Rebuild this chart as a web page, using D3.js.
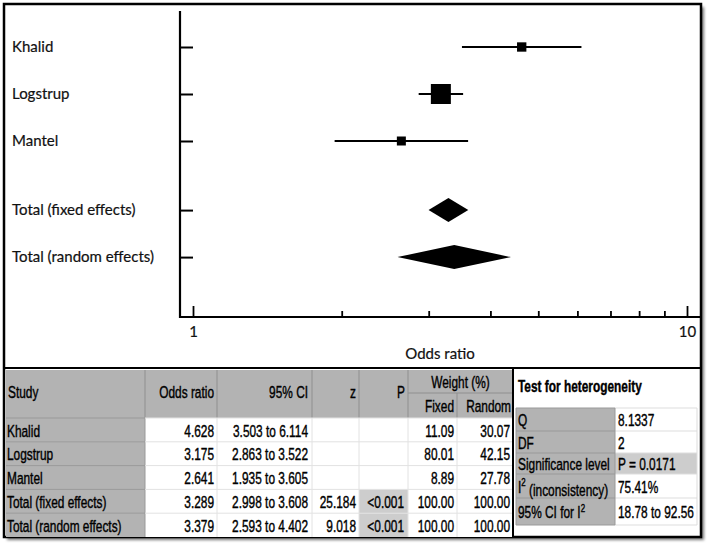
<!DOCTYPE html>
<html><head><meta charset="utf-8">
<script src="https://cdn.jsdelivr.net/npm/d3@7"></script>
<style>
html,body{margin:0;padding:0;background:#fff;}
svg{display:block;}
.pl{font-family:"Lato","Open Sans",sans-serif;font-size:15px;fill:#111;stroke:#111;stroke-width:0.2px;}
.tb{font-family:"Liberation Sans","Arial",sans-serif;font-size:16.5px;fill:#000;stroke:#000;stroke-width:0.4px;}
</style></head>
<body>
<script>
// ---- data ----
const studies = ["Khalid","Logstrup","Mantel","Total (fixed effects)","Total (random effects)"];
const isTotal = [false,false,false,true,true];
const oddsRatio = [4.628,3.175,2.641,3.289,3.379];
const ciLow = [3.503,2.863,1.935,2.998,2.593];
const ciHigh = [6.114,3.522,3.605,3.608,4.402];
const zVal = ["","","","25.184","9.018"];
const pVal = ["","","","<0.001","<0.001"];
const weightFixed = [11.09,80.01,8.89,100.00,100.00];
const weightRandom = [30.07,42.15,27.78,100.00,100.00];
const xTicksMajor = [1,10];
const xTicksMinor = [2,3,4,5,6,7,8,9];
const hetLabels = ["Q","DF","Significance level","I2 (inconsistency)","95% CI for I2"];
const hetValues = ["8.1337","2","P = 0.0171","75.41%","18.78 to 92.56"];

const W=709,H=543;
const NARROW=0.72;
const svg=d3.select("body").append("svg").attr("width",W).attr("height",H);
const defs=svg.append("defs");
const f=defs.append("filter").attr("id","sh").attr("x","-5%").attr("y","-5%").attr("width","110%").attr("height","110%");
f.append("feGaussianBlur").attr("stdDeviation",1.5);

svg.append("rect").attr("x",7).attr("y",7).attr("width",697).attr("height",533).attr("fill","#777").attr("filter","url(#sh)");
svg.append("rect").attr("x",4).attr("y",4).attr("width",697).attr("height",533).attr("fill","#fff").attr("stroke","#000").attr("stroke-width",2.5);

// ---- forest plot ----
const x=d3.scaleLog().domain([1,10]).range([193,687]);
const y=d3.scaleLinear().domain([0,1]).range([47,94]);
const rowY=i=>y(i+(isTotal[i]?0.47:0));
const axisX0=180, axisX1=700, axisY=317, axisTop=11;
const sizeScale=d3.scaleLinear().domain(d3.extent(weightFixed.filter((d,i)=>!isTotal[i]))).range([9,20]);

const g=svg.append("g");
g.append("line").attr("x1",axisX0).attr("x2",axisX0).attr("y1",axisTop).attr("y2",axisY+1).attr("stroke","#000").attr("stroke-width",2.2);
const yAx=d3.axisRight(d3.scaleLinear().domain([0,4.47]).range([rowY(0),rowY(4)])).tickValues(studies.map((d,i)=>i+(isTotal[i]?0.47:0))).tickSize(13).tickFormat("");
g.append("g").attr("transform",`translate(${axisX0},0)`).call(yAx).call(s=>{s.select(".domain").remove();s.selectAll("line").attr("stroke-width",2);});
g.selectAll("text.lab").data(studies).join("text").attr("class","pl").attr("x",12).attr("y",(d,i)=>rowY(i)).attr("dy","0.35em").text(d=>d);

g.append("line").attr("x1",axisX0-1).attr("x2",axisX1).attr("y1",axisY).attr("y2",axisY).attr("stroke","#000").attr("stroke-width",2.2);
g.append("g").attr("transform",`translate(0,${axisY})`).call(d3.axisBottom(x).tickValues(xTicksMinor).tickSize(-6).tickFormat(""))
  .call(s=>{s.select(".domain").remove();s.selectAll("line").attr("stroke-width",1.8);});
g.append("g").attr("transform",`translate(0,${axisY})`).call(d3.axisBottom(x).tickValues(xTicksMajor).tickSize(-11).tickPadding(9).tickFormat(d3.format("d")))
  .call(s=>{s.select(".domain").remove();s.selectAll("line").attr("stroke-width",1.8);s.selectAll("text").attr("class","pl").attr("font-size",null).attr("font-family",null).attr("fill","#111");});
g.append("text").attr("class","pl").attr("x",(axisX0+axisX1)/2).attr("y",359).attr("text-anchor","middle").text("Odds ratio");

const ind=studies.map((d,i)=>i).filter(i=>!isTotal[i]);
g.selectAll("line.ci").data(ind).join("line").attr("x1",i=>x(ciLow[i])).attr("x2",i=>x(ciHigh[i])).attr("y1",i=>rowY(i)).attr("y2",i=>rowY(i)).attr("stroke","#000").attr("stroke-width",2);
g.selectAll("rect.sq").data(ind).join("rect").attr("x",i=>x(oddsRatio[i])-sizeScale(weightFixed[i])/2).attr("y",i=>rowY(i)-sizeScale(weightFixed[i])/2)
  .attr("width",i=>sizeScale(weightFixed[i])).attr("height",i=>sizeScale(weightFixed[i])).attr("fill","#000");
const tot=studies.map((d,i)=>i).filter(i=>isTotal[i]);
g.selectAll("path.dia").data(tot).join("path").attr("fill","#000").attr("d",i=>{
  const yy=rowY(i),h=12;
  return `M${x(ciLow[i])},${yy}L${x(oddsRatio[i])},${yy-h}L${x(ciHigh[i])},${yy}L${x(oddsRatio[i])},${yy+h}Z`;});

// ---- table ----
const T=svg.append("g");
const colEdges=[6,145,217,312,359,408,457,513];
const hdrTop=370, hdrMid=393, hdrBot=418, rowH=23.8;
const gray="#b3b3b3", lgray="#cdcdcd";
T.append("rect").attr("x",colEdges[0]).attr("y",hdrTop).attr("width",colEdges[7]-colEdges[0]).attr("height",hdrBot-hdrTop).attr("fill",gray);
studies.forEach((s,i)=>{
  const y0=hdrBot+i*rowH;
  T.append("rect").attr("x",colEdges[0]).attr("y",y0).attr("width",colEdges[1]-colEdges[0]).attr("height",rowH).attr("fill",gray);
  T.append("rect").attr("x",colEdges[1]).attr("y",y0).attr("width",colEdges[7]-colEdges[1]).attr("height",rowH).attr("fill","#fff");
  if(pVal[i]) T.append("rect").attr("x",colEdges[4]).attr("y",y0).attr("width",colEdges[5]-colEdges[4]).attr("height",rowH).attr("fill",lgray);
});
const tBot=hdrBot+studies.length*rowH;
colEdges.slice(1,7).forEach((cx,k)=>{
  T.append("line").attr("x1",cx).attr("x2",cx).attr("y1",(k===5)?hdrMid:hdrTop).attr("y2",hdrBot).attr("stroke","#8f8f8f").attr("stroke-width",1);
  T.append("line").attr("x1",cx).attr("x2",cx).attr("y1",hdrBot).attr("y2",tBot).attr("stroke",k===0?"#999":"#e2e2e2").attr("stroke-width",1);
});
T.append("line").attr("x1",colEdges[5]).attr("x2",colEdges[7]).attr("y1",hdrMid).attr("y2",hdrMid).attr("stroke","#8f8f8f");
for(let i=0;i<studies.length;i++){
  const yy=hdrBot+i*rowH;
  T.append("line").attr("x1",colEdges[0]).attr("x2",colEdges[1]).attr("y1",yy).attr("y2",yy).attr("stroke","#999");
  T.append("line").attr("x1",colEdges[1]).attr("x2",colEdges[7]).attr("y1",yy).attr("y2",yy).attr("stroke","#e2e2e2");
}
const tx=(parent,xx,yy,t,anchor)=>parent.append("text").attr("class","tb").attr("transform",`translate(${xx},${yy}) scale(${NARROW},1)`).attr("dy","0.35em").attr("text-anchor",anchor).text(t);
const hy=(hdrTop+hdrBot)/2-2;
tx(T,8,hy,"Study","start");
tx(T,colEdges[2]-3,hy,"Odds ratio","end");
tx(T,colEdges[3]-4,hy,"95% CI","end");
tx(T,colEdges[4]-3,hy,"z","end");
tx(T,colEdges[5]-3,hy,"P","end");
tx(T,(colEdges[5]+colEdges[7])/2,(hdrTop+hdrMid)/2+1,"Weight (%)","middle");
tx(T,colEdges[6]-3,(hdrMid+hdrBot)/2+1,"Fixed","end");
tx(T,colEdges[7]-2,(hdrMid+hdrBot)/2+1,"Random","end");
studies.forEach((s,i)=>{
  const yy=hdrBot+i*rowH+rowH/2+1;
  tx(T,7,yy,s,"start");
  tx(T,colEdges[2]-3,yy,d3.format(".3f")(oddsRatio[i]),"end");
  tx(T,colEdges[3]-4,yy,d3.format(".3f")(ciLow[i])+" to "+d3.format(".3f")(ciHigh[i]),"end");
  tx(T,colEdges[4]-3,yy,zVal[i],"end");
  tx(T,colEdges[5]-4,yy,pVal[i],"end");
  tx(T,colEdges[6]-3,yy,d3.format(".2f")(weightFixed[i]),"end");
  tx(T,colEdges[7]-3,yy,d3.format(".2f")(weightRandom[i]),"end");
});
svg.append("line").attr("x1",4).attr("x2",701).attr("y1",368).attr("y2",368).attr("stroke","#000").attr("stroke-width",2);
svg.append("line").attr("x1",colEdges[7]).attr("x2",colEdges[7]).attr("y1",368).attr("y2",537).attr("stroke","#000").attr("stroke-width",2);

// ---- heterogeneity ----
const Hg=svg.append("g");
tx(Hg,518,386,"Test for heterogeneity","start").attr("font-weight","bold");
const hx0=516,hx1=615,hx2=697;
const hRows=[408,431,453,474,498,525];
hetLabels.forEach((l,i)=>{
  Hg.append("rect").attr("x",hx0).attr("y",hRows[i]).attr("width",hx1-hx0).attr("height",hRows[i+1]-hRows[i]).attr("fill",gray);
  Hg.append("rect").attr("x",hx1).attr("y",hRows[i]).attr("width",hx2-hx1).attr("height",hRows[i+1]-hRows[i]).attr("fill",i===2?lgray:"#fff");
});
hRows.forEach((yy,i)=>{
  Hg.append("line").attr("x1",hx0).attr("x2",hx1).attr("y1",yy).attr("y2",yy).attr("stroke","#999");
  Hg.append("line").attr("x1",hx1).attr("x2",hx2).attr("y1",yy).attr("y2",yy).attr("stroke","#ddd");
});
Hg.append("line").attr("x1",hx1).attr("x2",hx1).attr("y1",hRows[0]).attr("y2",hRows[5]).attr("stroke","#999");
Hg.append("line").attr("x1",hx2).attr("x2",hx2).attr("y1",hRows[0]).attr("y2",hRows[5]).attr("stroke","#ddd");
Hg.append("line").attr("x1",hx0).attr("x2",hx0).attr("y1",hRows[0]).attr("y2",hRows[5]).attr("stroke","#999");
hetLabels.forEach((l,i)=>{
  const yy=(hRows[i]+hRows[i+1])/2+1;
  if(l.indexOf("I2")>=0){
    const t=tx(Hg,518,yy,"","start");
    const parts=l.split("I2");
    if(parts[0]) t.append("tspan").text(parts[0]);
    t.append("tspan").text("I");
    t.append("tspan").attr("font-size","11px").attr("dy","-0.6em").text("2");
    if(parts[1]) t.append("tspan").attr("dy","0.6em").text(parts[1]);
  } else tx(Hg,518,yy,l,"start");
  tx(Hg,618,yy,hetValues[i],"start");
});
</script>
</body></html>
